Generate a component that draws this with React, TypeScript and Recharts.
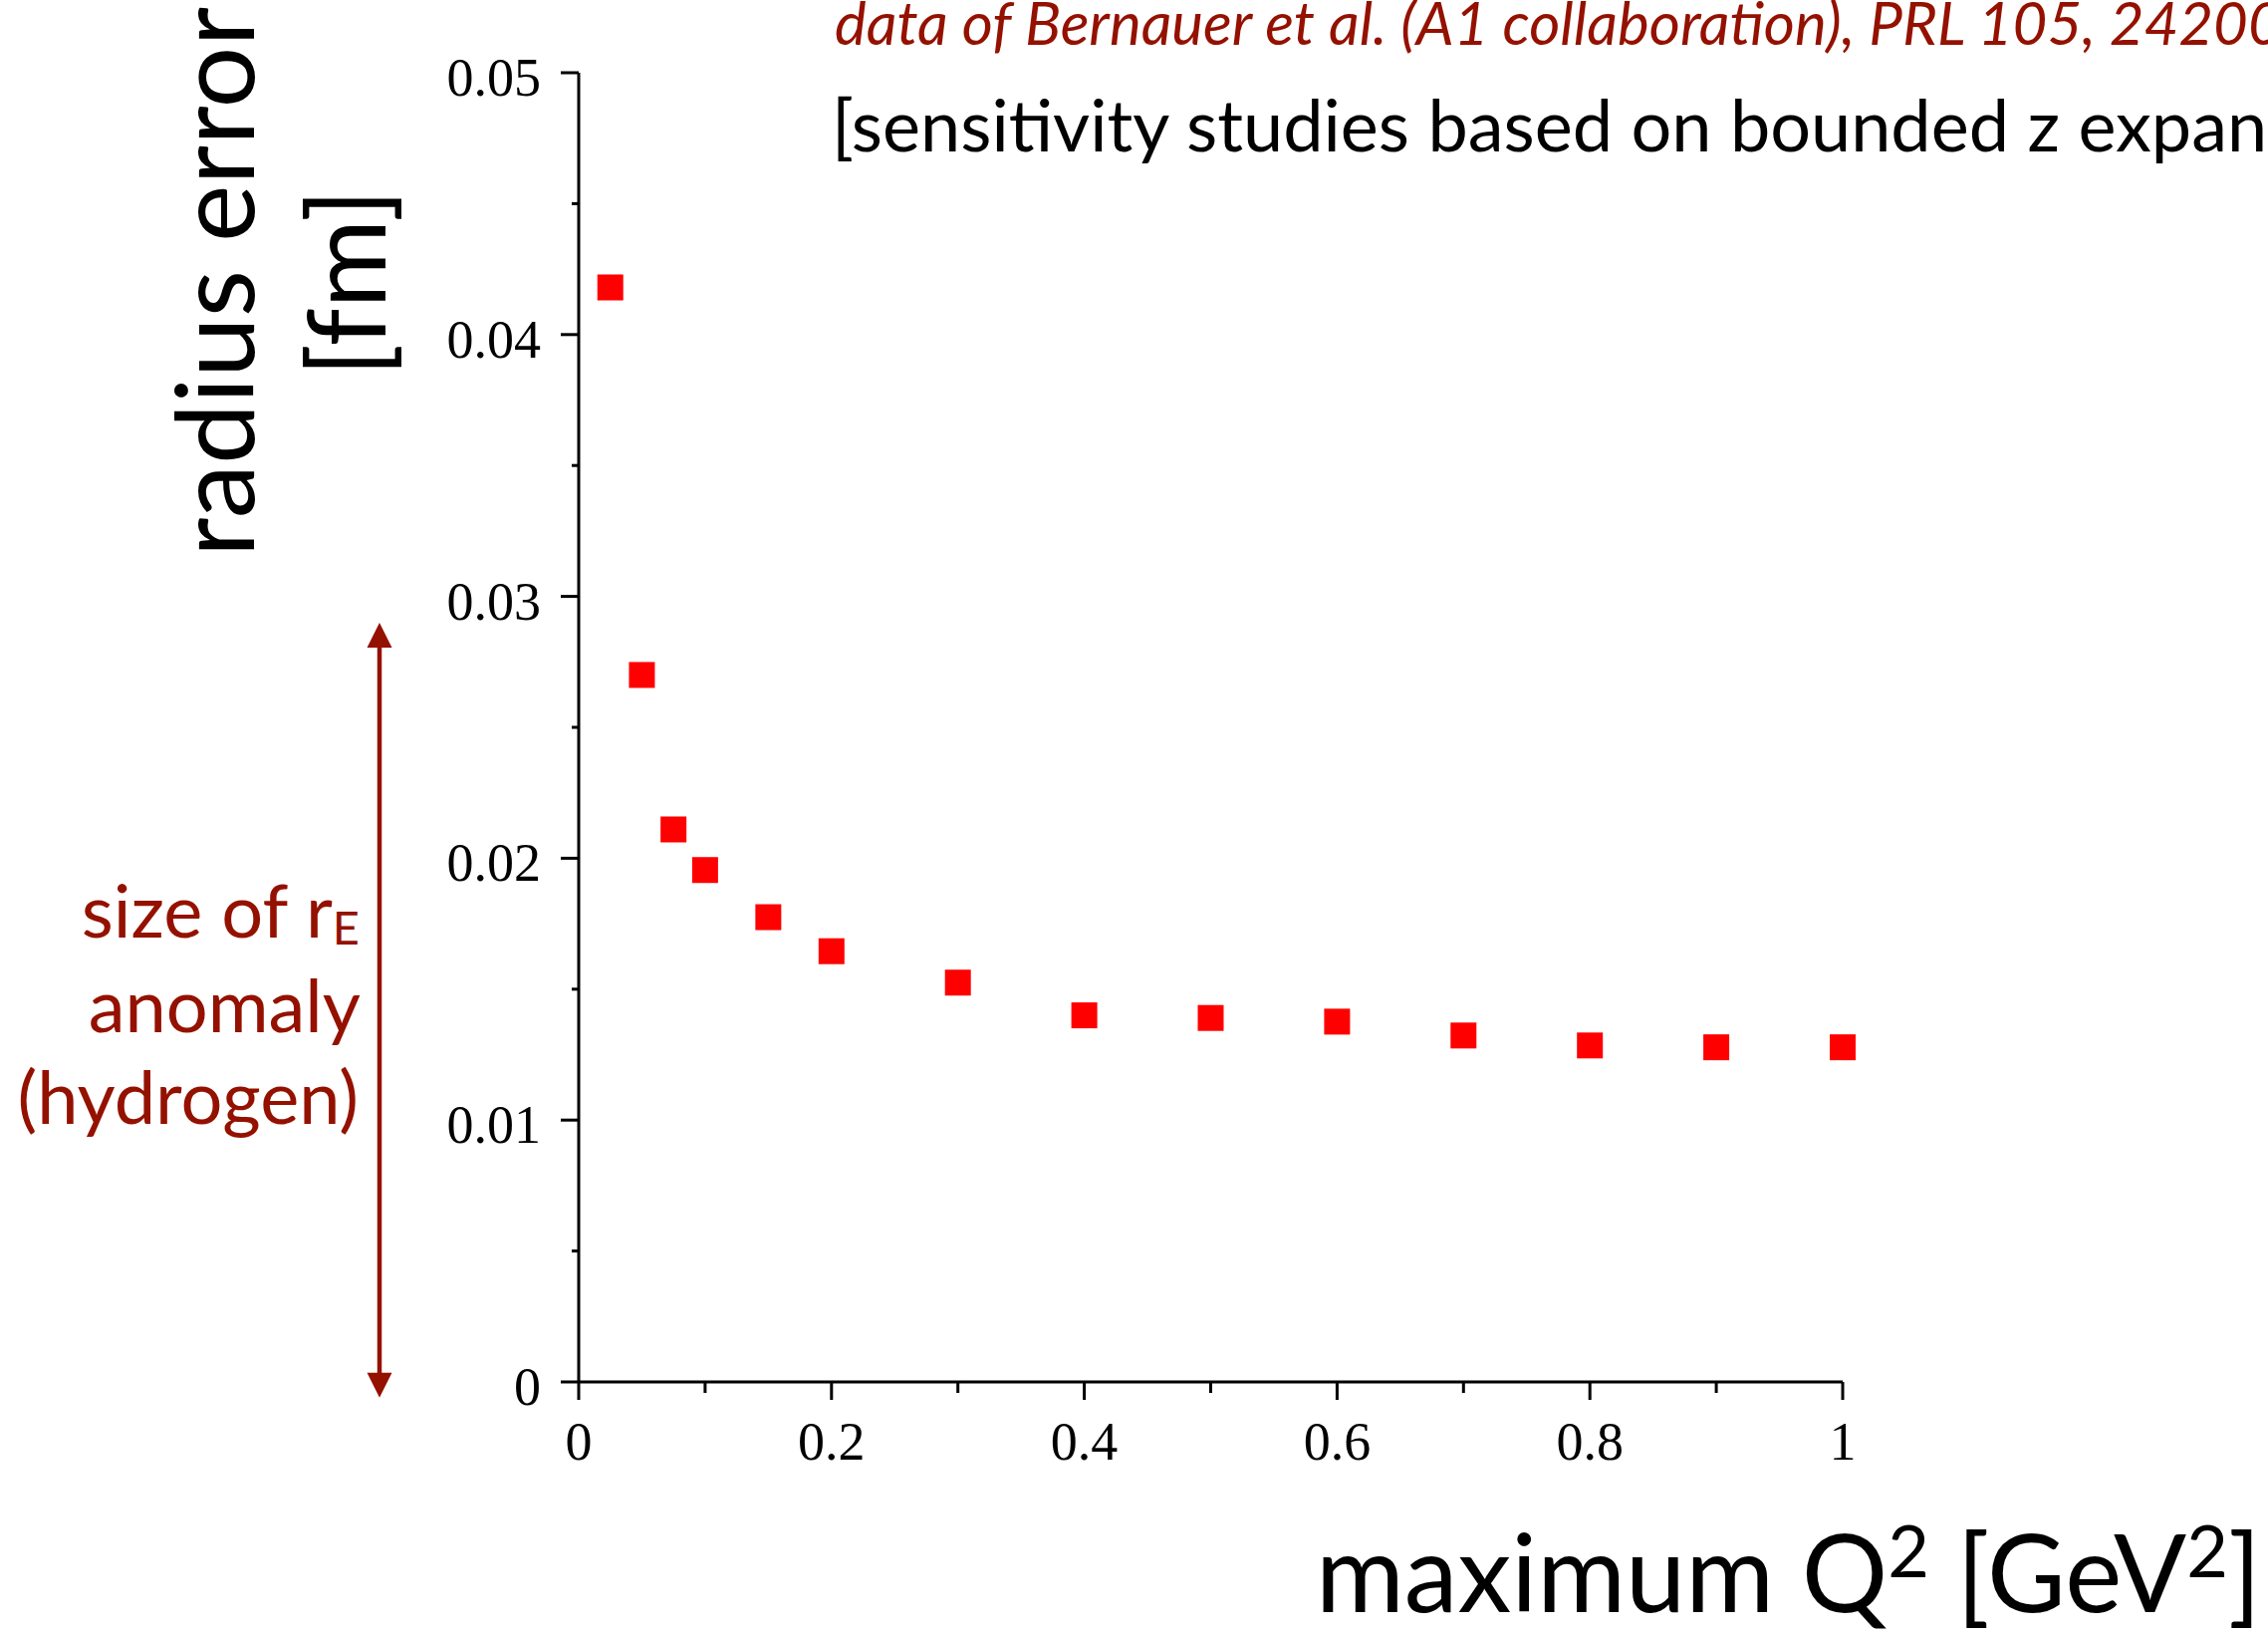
import { ReferenceLine, Scatter, ScatterChart, XAxis, YAxis } from "recharts";

const maxQ2 = [0.025, 0.05, 0.075, 0.1, 0.15, 0.2, 0.3, 0.4, 0.5, 0.6, 0.7, 0.8, 0.9, 1.0];
const radiusError = [
  0.0418, 0.027, 0.0211, 0.01955, 0.01775, 0.01645, 0.01525, 0.014, 0.0139,
  0.01376, 0.01323, 0.01285, 0.01278, 0.01278,
];
const xTicks = [0, 0.1, 0.2, 0.3, 0.4, 0.5, 0.6, 0.7, 0.8, 0.9, 1];
const yTicks = [0, 0.005, 0.01, 0.015, 0.02, 0.025, 0.03, 0.035, 0.04, 0.045, 0.05];
const xTickLabels = ["0", "", "0.2", "", "0.4", "", "0.6", "", "0.8", "", "1"];
const yTickLabels = ["0", "", "0.01", "", "0.02", "", "0.03", "", "0.04", "", "0.05"];
// hydrogen anomaly arrow, in data units (drawn left of the y axis)
const anomalyX = -0.1576;
const anomalyRange = [-0.0006, 0.029];

const data = maxQ2.map((q2, i) => ({ q2, err: radiusError[i] }));

const SANS = "Lato, 'Open Sans', sans-serif";
const SERIF = "'Liberation Serif', 'Times New Roman', serif";
const CAYENNE = "#941100";

function XTick(props: any) {
  const { x, y, index } = props;
  const label = xTickLabels[index];
  const major = label !== "";
  return (
    <g>
      <line x1={x} x2={x} y1={y} y2={y + (major ? 18 : 11)} stroke="#000" strokeWidth={3} />
      {major && (
        <text x={x} y={y + 78} textAnchor="middle" fontFamily={SERIF} fontSize={54} fill="#000">
          {label}
        </text>
      )}
    </g>
  );
}

function YTick(props: any) {
  const { x, y, index } = props;
  const label = yTickLabels[index];
  const major = label !== "";
  return (
    <g>
      <line x1={x} x2={x - (major ? 18 : 7)} y1={y} y2={y} stroke="#000" strokeWidth={3} />
      {major && (
        <text x={x - 38} y={y + 23} textAnchor="end" fontFamily={SERIF} fontSize={54} fill="#000">
          {label}
        </text>
      )}
    </g>
  );
}

function Square(props: any) {
  const { cx, cy } = props;
  return <rect x={cx - 13} y={cy - 13} width={26} height={26} fill="#ff0000" />;
}

function Arrow(props: any) {
  const { x1, y1, x2, y2 } = props;
  const top = Math.min(y1, y2);
  const bottom = Math.max(y1, y2);
  const x = x1;
  return (
    <g>
      <line x1={x} x2={x2} y1={top + 20} y2={bottom - 20} stroke={CAYENNE} strokeWidth={4.5} />
      <polygon points={`${x},${top} ${x - 12.5},${top + 25} ${x + 12.5},${top + 25}`} fill={CAYENNE} />
      <polygon points={`${x},${bottom} ${x - 12.5},${bottom - 25} ${x + 12.5},${bottom - 25}`} fill={CAYENNE} />
    </g>
  );
}

export default function App() {
  return (
    <div
      style={{
        position: "absolute",
        left: 0,
        top: 0,
        width: 2277,
        height: 1642,
        overflow: "hidden",
        background: "#fff",
      }}
    >
      <ScatterChart
        width={2277}
        height={1642}
        margin={{ top: 73, right: 427, bottom: 175, left: 461 }}
      >
        <XAxis
          type="number"
          dataKey="q2"
          domain={[0, 1]}
          ticks={xTicks}
          interval={0}
          tick={<XTick />}
          tickLine={false}
          tickSize={0}
          tickMargin={0}
          axisLine={{ stroke: "#000", strokeWidth: 3 }}
          height={80}
        />
        <YAxis
          type="number"
          dataKey="err"
          domain={[0, 0.05]}
          ticks={yTicks}
          interval={0}
          tick={<YTick />}
          tickLine={false}
          tickSize={0}
          tickMargin={0}
          axisLine={{ stroke: "#000", strokeWidth: 3 }}
          width={120}
        />
        <ReferenceLine
          segment={[
            { x: anomalyX, y: anomalyRange[0] },
            { x: anomalyX, y: anomalyRange[1] },
          ]}
          ifOverflow="visible"
          shape={Arrow}
        />
        <Scatter data={data} shape={Square} isAnimationActive={false} />
      </ScatterChart>

      <svg
        width={2277}
        height={1642}
        style={{ position: "absolute", left: 0, top: 0, pointerEvents: "none" }}
      >
        <text x={838} y={45} fontFamily={SANS} fontStyle="italic" fontSize={60} fill={CAYENNE}>
          data of Bernauer et al. (A1 collaboration), PRL 105, 242001 (2010)
        </text>
        <text x={835} y={152} fontFamily={SANS} fontSize={72} fill="#000">
          [sensitivity studies based on bounded z expansion]
        </text>

        <g transform="translate(255,283) rotate(-90)">
          <text x={0} y={0} textAnchor="middle" fontFamily={SANS} fontSize={109} fill="#000">
            radius error
          </text>
        </g>
        <g transform="translate(387,284) rotate(-90)">
          <text x={0} y={0} textAnchor="middle" fontFamily={SANS} fontSize={109} fill="#000">
            [fm]
          </text>
        </g>

        <text x={1321} y={1618} fontFamily={SANS} fontSize={108} fill="#000">
          maximum Q<tspan fontSize={72} dy={-35}>2</tspan>
          <tspan dy={35}> [GeV</tspan>
          <tspan fontSize={72} dy={-35}>2</tspan>
          <tspan dy={35}>]</tspan>
        </text>

        <g fontFamily={SANS} fontSize={74} fill={CAYENNE} textAnchor="end">
          <text x={361} y={941}>
            size of r<tspan fontSize={47} dy={7}>E</tspan>
          </text>
          <text x={362} y={1036}>anomaly</text>
          <text x={360} y={1128}>(hydrogen)</text>
        </g>
      </svg>
    </div>
  );
}
